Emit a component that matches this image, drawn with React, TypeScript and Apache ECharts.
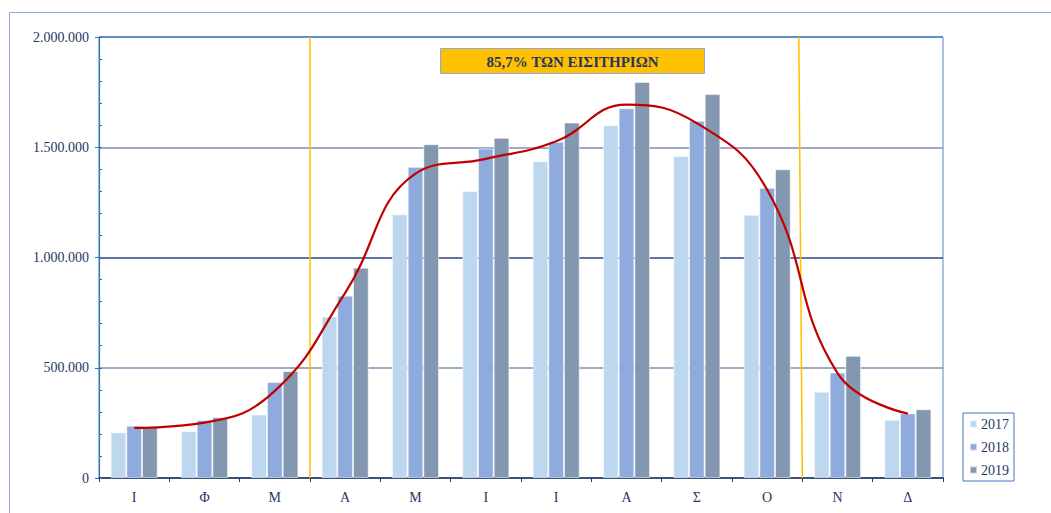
import React, { useEffect, useRef } from "react";
import * as echarts from "echarts";

const categories = ["Ι", "Φ", "Μ", "Α", "Μ", "Ι", "Ι", "Α", "Σ", "Ο", "Ν", "Δ"];
const seriesNames = ["2017", "2018", "2019"];
const values2017 = [207000, 213000, 288000, 732000, 1196000, 1302000, 1437000, 1600000, 1460000, 1194000, 391000, 264000];
const values2018 = [237000, 263000, 435000, 827000, 1411000, 1494000, 1525000, 1677000, 1620000, 1316000, 478000, 293000];
const values2019 = [234000, 276000, 485000, 954000, 1514000, 1543000, 1612000, 1796000, 1741000, 1400000, 554000, 312000];
const trendValues = [227000, 251000, 395000, 840000, 1380000, 1447000, 1527000, 1693000, 1609000, 1307000, 476000, 292000];
const peakStartLine = [[3, 0], [3, 2000000]];
const peakEndLine = [[10, 0], [9.95, 2000000]];
const annotationText = "85,7% ΤΩΝ ΕΙΣΙΤΗΡΙΩΝ";

const FONT = "Liberation Serif";
const NAVY = "#1F3864";
const barColors = ["#BDD7EE", "#8FAADC", "#8497B0"];

function fmt(v: number): string {
  return String(Math.round(v)).replace(/\B(?=(\d{3})+(?!\d))/g, ".");
}

export default function App() {
  const ref = useRef<HTMLDivElement>(null);
  useEffect(() => {
    if (!ref.current) return;
    const chart = echarts.init(ref.current, undefined, { renderer: "svg" });
    const barData = [values2017, values2018, values2019];
    const option: any = {
      animation: false,
      backgroundColor: "#ffffff",
      textStyle: { fontFamily: FONT },
      grid: {
        left: 99,
        right: 108,
        top: 37,
        bottom: 35,
        show: true,
        borderColor: "#5B85C8",
        borderWidth: 1,
      },
      legend: {
        data: seriesNames,
        orient: "vertical",
        left: 963,
        top: 413,
        itemWidth: 7,
        itemHeight: 7,
        itemGap: 9,
        icon: "rect",
        padding: [4, 5, 4, 6],
        borderColor: "#4472C4",
        borderWidth: 1,
        textStyle: { fontFamily: FONT, fontSize: 14, color: NAVY, lineHeight: 14, padding: [0, 0, 0, -1] },
      },
      xAxis: [
        {
          type: "category",
          data: categories,
          position: "bottom",
          axisLine: { lineStyle: { color: NAVY, width: 1.5 } },
          axisTick: { show: true, length: 4, lineStyle: { color: NAVY } },
          axisLabel: { fontFamily: FONT, fontSize: 14, color: NAVY, margin: 12 },
        },
        {
          type: "value",
          min: 0,
          max: 12,
          show: false,
        },
        {
          type: "category",
          data: categories,
          position: "bottom",
          axisLine: { show: false },
          axisTick: { show: true, alignWithLabel: true, inside: true, length: 3, lineStyle: { color: NAVY } },
          axisLabel: { show: false },
          splitLine: { show: false },
        },
      ],
      yAxis: [
        {
          type: "value",
          min: 0,
          max: 2000000,
          interval: 500000,
          axisLine: { show: true, lineStyle: { color: "#2E75B6", width: 1.2 } },
          axisTick: { show: true, length: 4, lineStyle: { color: "#2E75B6" } },
          axisLabel: {
            fontFamily: FONT,
            fontSize: 14,
            color: NAVY,
            margin: 10,
            formatter: (v: number) => fmt(v),
          },
          splitLine: {
            show: true,
            lineStyle: { color: ["#8497B0", "#7F8FB0", "#2F4680", "#7F8FB0", "#4A7EC0"], width: 1.5 },
          },
        },
        {
          type: "value",
          min: 0,
          max: 2000000,
          interval: 100000,
          position: "left",
          axisLine: { show: false },
          axisTick: { show: true, inside: true, length: 3, lineStyle: { color: "#2E75B6" } },
          axisLabel: { show: false },
          splitLine: { show: false },
        },
      ],
      series: [
        ...seriesNames.map((name, i) => ({
          name,
          type: "bar",
          data: barData[i],
          xAxisIndex: 0,
          yAxisIndex: 0,
          barGap: "0%",
          barCategoryGap: "33%",
          itemStyle: { color: barColors[i], borderColor: "rgba(255,255,255,0.55)", borderWidth: 1 },
          z: 2,
        })),
        {
          name: "trend",
          type: "line",
          data: trendValues,
          xAxisIndex: 0,
          yAxisIndex: 0,
          smooth: 0.45,
          symbol: "none",
          lineStyle: { color: "#C00000", width: 2.2 },
          z: 5,
        },
        {
          name: "peakStart",
          type: "line",
          data: peakStartLine,
          xAxisIndex: 1,
          yAxisIndex: 0,
          symbol: "none",
          lineStyle: { color: "#FFC000", width: 1.5 },
          z: 4,
        },
        {
          name: "peakEnd",
          type: "line",
          data: peakEndLine,
          xAxisIndex: 1,
          yAxisIndex: 0,
          symbol: "none",
          lineStyle: { color: "#FFC000", width: 1.5 },
          z: 4,
        },
      ],
      graphic: [
        {
          type: "rect",
          left: 7,
          top: 10,
          shape: { width: 1100, height: 600 },
          style: { fill: "none", stroke: "#8FAADC", lineWidth: 1 },
          silent: true,
          z: 0,
        },
        {
          type: "group",
          left: 440,
          top: 48,
          z: 10,
          children: [
            {
              type: "rect",
              shape: { x: 0, y: 0, width: 264, height: 25 },
              style: { fill: "#FFC000", stroke: "#8EA9DB", lineWidth: 1 },
            },
            {
              type: "text",
              x: 132,
              y: 13,
              style: {
                text: annotationText,
                fill: NAVY,
                fontFamily: FONT,
                fontWeight: "bold",
                fontSize: 15,
                align: "center",
                verticalAlign: "middle",
              },
            },
          ],
        },
      ],
    };
    chart.setOption(option);
    return () => chart.dispose();
  }, []);
  return (
    <div
      ref={ref}
      style={{ position: "fixed", left: 0, top: 0, width: 1051, height: 513 }}
    />
  );
}
